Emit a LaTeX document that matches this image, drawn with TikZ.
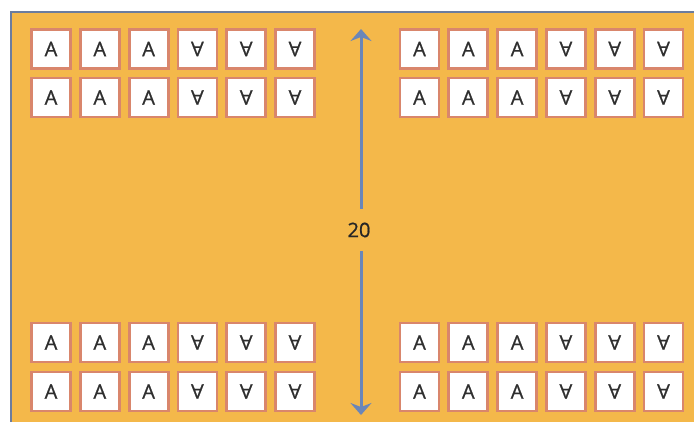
\documentclass[tikz,border=0pt]{standalone}
\usepackage{fontspec}
\setmainfont{Open Sans}
\newfontfamily\tilefont{Open Sans}[FakeBold=0.9]
\usetikzlibrary{arrows.meta}
\definecolor{bgorange}{HTML}{F4B84A}
\definecolor{frameblue}{HTML}{6B7C9E}
\definecolor{tileedge}{HTML}{D9866C}
\definecolor{arrowblue}{HTML}{6A86B8}
\definecolor{letter}{HTML}{2E2E2E}
\tikzset{
  tile/.style={draw=tileedge, line width=2.8pt, fill=white, minimum width=39pt, minimum height=39pt,
    inner sep=0pt, font=\tilefont\fontsize{20}{20}\selectfont, text=letter},
  flip/.style={tile, rotate=180},
  arr/.style={draw=arrowblue, line width=3pt, -{Stealth[length=12pt,width=21pt,inset=4pt]}},
  lbl/.style={font=\tilefont\fontsize{20}{20}\selectfont, text=black!85, minimum height=42pt, inner sep=0pt}
}
\begin{document}
\begin{tikzpicture}[x=1pt,y=-1pt]
\useasboundingbox (0,0) rectangle (694,421);
\begin{scope}
\clip (0,0) rectangle (694,421);
\fill[white] (0,0) rectangle (694,421);
\draw[fill=bgorange, draw=frameblue, line width=2pt] (11,12) rectangle (710,440);
\end{scope}
% tiles
\foreach \bx/\bn in {51/L, 419.5/R}{
  \foreach \by/\rn in {49/a, 97.5/b, 342.5/c, 391.5/d}{
    \foreach \i in {0,1,2}{
      \node[tile] (t\bn\rn\i) at ({\bx+48.8*\i},\by) {A};
    }
    \foreach \i in {3,4,5}{
      \node[flip] (t\bn\rn\i) at ({\bx+48.8*\i},\by) {A};
    }
  }
}
% arrow
\node[lbl] (num) at (359,230) {20};
\coordinate (topend) at (361,29);
\coordinate (botend) at (361,415);
\draw[arr] (num.north -| topend) -- (topend);
\draw[arr] (num.south -| botend) -- (botend);
\end{tikzpicture}
\end{document}
